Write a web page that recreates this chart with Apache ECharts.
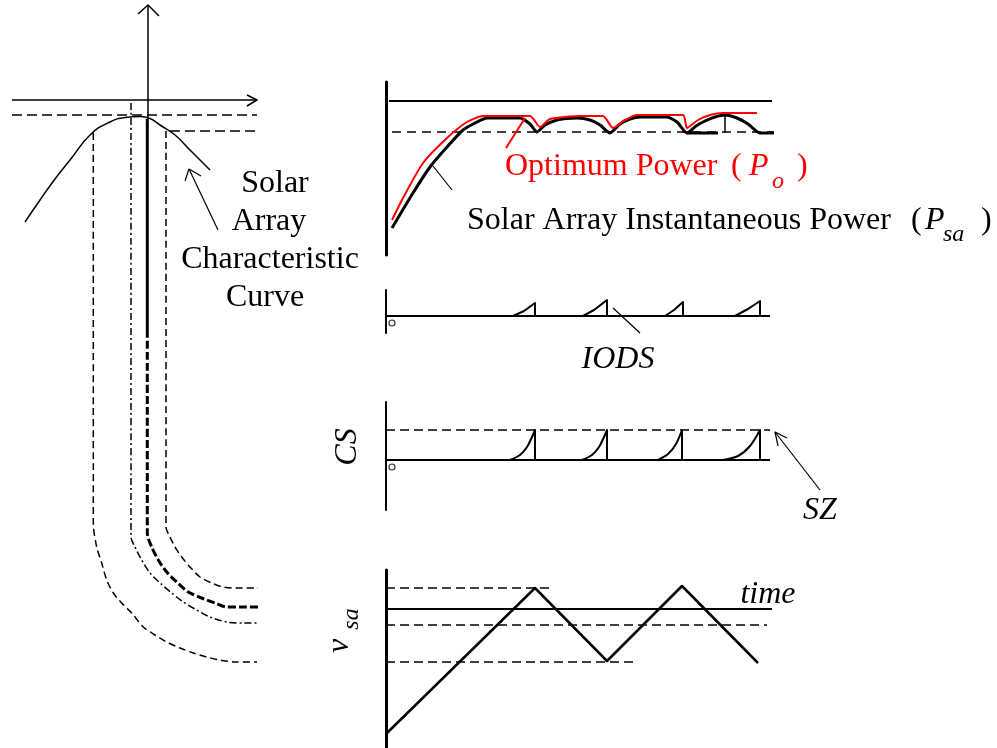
<!DOCTYPE html>
<html><head><meta charset="utf-8">
<script src="https://cdn.jsdelivr.net/npm/echarts@6/dist/echarts.min.js"></script>
<style>html,body{margin:0;padding:0;background:#fff}#c{width:997px;height:748px}</style>
</head><body><div id="c"></div>
<script>
// ---------- Left panel: solar array characteristic (units: V, P-ish) ----------
const charCurve = [[2.5,22.2],[4,20],[5.5,17.9],[7,16],[9.1,13.4],[11,12.2],[12.5,11.75],[14,11.65],[15,11.85],[16,12.5],[17.5,13.5],[19,15],[21,17]];
const leftHAxis = [[1.2,10],[25.7,10]];
const leftHArrow = [[24.7,9.5],[25.7,10],[24.7,10.6]];
const leftVAxis = [[14.8,0.5],[14.8,11.9]];
const leftVArrow = [[13.8,1.4],[14.8,0.5],[15.9,1.6]];
const leftDash1 = [[1.2,11.5],[25.7,11.5]];
const leftDash2 = [[17,13.1],[25.7,13.1]];
const projA = [[9.33,13.3],[9.33,52.3],[9.67,54.7],[10.17,56.3],[10.67,58],[11.33,59.3],[12.17,60.3],[13.17,61.3],[14.33,62.7],[15.5,63.5],[16.67,64.2],[18,64.8],[19.33,65.3],[20.67,65.7],[22,66],[23.67,66.2],[25.7,66.2]];
const projB = [[13.1,10.3],[13.1,53.7],[13.5,54.7],[14.17,56],[15,57.3],[16,58.3],[17.17,59.3],[18.33,60.2],[19.67,61],[21,61.7],[22.67,62.2],[24.33,62.3],[25.7,62.3]];
const projCtop = [[14.73,11.9],[14.73,33]];
const projC = [[14.73,33],[14.73,53.3],[15.17,54.7],[15.83,56],[16.67,57.2],[17.67,58.2],[18.83,59.2],[20.17,59.8],[21.5,60.3],[22.67,60.7],[24.33,60.7],[25.8,60.7]];
const projD = [[16.6,13.1],[16.6,52.7],[17,53.7],[17.5,54.7],[18.17,55.7],[19,56.7],[20,57.7],[21.17,58.3],[22.33,58.7],[23.67,58.8],[25.8,58.8]];
const curveLeader = [[21.8,23],[18.9,16.9]];
const curveLeaderHead = [[18.5,18.1],[18.9,16.9],[20.1,17.6]];

// ---------- Power panel (time, power) ----------
const psa = [[1.5,13.5],[6.75,31],[11,44],[15.25,54],[19.25,62.5],[22.75,66.5],[25.25,68.5],[33.5,68.5],[36,65.5],[37.75,61.5],[39.75,65],[42.75,67.5],[45.25,68.25],[47.75,68.5],[51,67.5],[53.5,65],[56,61],[58.5,65.5],[61,68],[63.5,69],[70.25,69],[72.75,66.5],[75.25,61],[77.5,64.5],[79.75,67],[82.25,69],[84.75,70],[87.75,68.5],[90.5,65.5],[93.5,61],[97,61]];
const psaFlat = [[75.25,61],[83,61]];
const psaTick = [[84.75,70],[84.75,61]];
const po = [[1.5,17.5],[4.25,28.5],[9.25,46],[15.25,58.5],[20.25,66.5],[24.25,69.5],[36,69.5],[38.5,64],[41,68],[48.5,69.5],[54.25,69.5],[56.75,63.5],[59.75,67.5],[62.75,70],[74.25,70],[75.25,63.5],[78,67.5],[81,70],[84.25,71],[92.75,71]];
const poStep = [[30,53.5],[34.75,68.5]];
const pTopLine = [[0.75,77],[96.5,77]];
const pDashLine = [[1.5,61.5],[97,61.5]];
const psaLeader = [[11.75,44.5],[16.5,32.5]];

// ---------- IODS panel ----------
const iodsBase = [[0,0],[96,0]];
const iodsTri1 = [[31.75,0],[34.5,2.5],[37.25,6.5],[37.25,0]];
const iodsTri2 = [[49.25,0],[52,3],[55.25,8],[55.25,0]];
const iodsTri3 = [[69.75,0],[72,3],[74.25,7],[74.25,0]];
const iodsTri4 = [[87.25,0],[90.5,3.5],[93.5,7.5],[93.5,0]];
const iodsLeader = [[56.75,4],[63.5,-8.5]];

// ---------- CS panel ----------
const csBase = [[0,0],[96,0]];
const csSZ = [[0,15],[96,15]];
const csRamp1 = [[31,0],[33.5,2.5],[35.25,6.5],[36.5,11.5],[37.25,15],[37.25,0]];
const csRamp2 = [[49,0],[51.5,2.5],[53.25,6.5],[54.5,11.5],[55.25,15],[55.25,0]];
const csRamp3 = [[68,0],[70.5,3],[72.5,8],[74,15],[74,0]];
const csRamp4 = [[84.25,0],[88,2],[91,7],[93.5,15],[93.5,0]];
const szLeader = [[108.5,-15],[97.25,14]];
const szHead = [[98,7],[97.25,14],[100.25,11]];

// ---------- v_sa panel ----------
const vsa = [[0.25,7.5],[37.25,80],[55.25,43.5],[74,81],[93,42.5]];
const vMax = [[0,80],[41,80]];
const vRef = [[0,69.5],[96.5,69.5]];
const vUp = [[0,61.5],[95.25,61.5]];
const vMin = [[0,43],[62.25,43]];

const origins = [[1,[1.5,-3.5]],[2,[1.5,-3.5]]];

function L(data, gi, o) {
  o = o || {};
  return {
    type: 'line', xAxisIndex: gi, yAxisIndex: gi, data: data,
    showSymbol: false, symbol: 'none', silent: true, clip: false,
    smooth: o.smooth || false, animation: false, z: o.z || 2,
    lineStyle: { color: o.color || '#000', width: o.width || 2, type: o.dash || 'solid', cap: 'butt', join: 'round' }
  };
}
const D = [7, 4];
const hid = { show: false };
function ax(type, min, max, gi, showLine, w) {
  return { type: 'value', gridIndex: gi, min: min, max: max, axisLabel: hid, axisTick: hid, splitLine: hid,
    axisLine: { show: !!showLine, onZero: false, lineStyle: { color: '#000', width: w || 2 } } };
}
const RED = '#ff0000';
const series = [
  // left
  L(charCurve, 0, { smooth: 0.5, width: 1.5 }),
  L(leftHAxis, 0, { width: 1.5 }), L(leftHArrow, 0, { width: 1.5 }),
  L(leftVAxis, 0, { width: 1.5 }), L(leftVArrow, 0, { width: 1.5 }),
  L(leftDash1, 0, { width: 1.5, dash: [10, 5] }), L(leftDash2, 0, { width: 1.5, dash: [10, 5] }),
  L(projA, 0, { smooth: 0.3, width: 1.5, dash: D }),
  L(projB, 0, { smooth: 0.3, width: 1.5, dash: [7, 3, 2, 3] }),
  L(projCtop, 0, { width: 3 }),
  L(projC, 0, { smooth: 0.3, width: 3, dash: [8, 3] }),
  L(projD, 0, { smooth: 0.3, width: 1.5, dash: D }),
  L(curveLeader, 0, { width: 1.2 }), L(curveLeaderHead, 0, { width: 1.2 }),
  // power
  L(pTopLine, 1, { width: 2 }), L(pDashLine, 1, { width: 1.5, dash: [9, 6] }),
  L(psa, 1, { width: 3, smooth: 0.2 }), L(psaFlat, 1, { width: 3 }), L(psaTick, 1, { width: 1.5 }),
  L(po, 1, { width: 2, color: RED, smooth: 0.2, z: 3 }), L(poStep, 1, { width: 2, color: RED, z: 3 }),
  L(psaLeader, 1, { width: 1.2 }),
  // IODS
  L(iodsBase, 2, { width: 2 }), L(iodsTri1, 2, { width: 2 }), L(iodsTri2, 2, { width: 2 }),
  L(iodsTri3, 2, { width: 2 }), L(iodsTri4, 2, { width: 2 }), L(iodsLeader, 2, { width: 1.2 }),
  // CS
  L(csBase, 3, { width: 2 }), L(csSZ, 3, { width: 1.5, dash: [9, 5] }),
  L(csRamp1, 3, { width: 2, smooth: 0.3 }), L(csRamp2, 3, { width: 2, smooth: 0.3 }),
  L(csRamp3, 3, { width: 2, smooth: 0.3 }), L(csRamp4, 3, { width: 2, smooth: 0.3 }),
  L(szLeader, 3, { width: 1.2 }), L(szHead, 3, { width: 1.2 }),
  // v_sa
  L(vMax, 4, { width: 1.5, dash: [9, 5] }), L(vRef, 4, { width: 2 }),
  L(vUp, 4, { width: 1.5, dash: [9, 5] }), L(vMin, 4, { width: 1.5, dash: [9, 5] }),
  L(vsa, 4, { width: 2.5 })
];
origins.forEach(function (o) {
  series.push({ type: 'scatter', xAxisIndex: o[0] + 1, yAxisIndex: o[0] + 1, data: [o[1]], symbol: 'circle', symbolSize: 6,
    itemStyle: { color: '#fff', borderColor: '#000', borderWidth: 1.2 }, silent: true, animation: false, clip: false });
});

const SERIF = '"Liberation Serif", "Times New Roman", serif';
function T(text, x, y, o) {
  o = o || {};
  return { type: 'text', x: x, y: y, rotation: o.rot || 0, silent: true, z: 10,
    style: { text: text, fill: o.color || '#000',
      font: (o.italic ? 'italic ' : '') + (o.size || 32) + 'px ' + SERIF,
      textAlign: o.align || 'left', textVerticalAlign: 'middle' } };
}
const graphic = [
  T('Solar', 275, 184, { align: 'center' }),
  T('Array', 269, 222, { align: 'center' }),
  T('Characteristic', 270, 260, { align: 'center' }),
  T('Curve', 265, 298, { align: 'center' }),
  T('Optimum Power', 505, 167, { color: RED }),
  T('(', 731, 167, { color: RED }),
  T('P', 749, 167, { color: RED, italic: true }),
  T('o', 772, 182, { color: RED, italic: true, size: 24 }),
  T(')', 797, 167, { color: RED }),
  T('Solar Array Instantaneous Power', 467, 221),
  T('(', 911, 221),
  T('P', 925, 221, { italic: true }),
  T('sa', 943, 235, { italic: true, size: 24 }),
  T(')', 981, 221),
  T('IODS', 618, 360, { italic: true, align: 'center' }),
  T('CS', 348, 447, { italic: true, align: 'center', rot: Math.PI / 2 }),
  T('SZ', 820, 511, { italic: true, align: 'center' }),
  T('time', 768, 595, { italic: true, align: 'center' }),
  T('v', 340, 646, { italic: true, align: 'center', rot: Math.PI / 2 }),
  T('sa', 352, 619, { italic: true, align: 'center', size: 24, rot: Math.PI / 2 })
];

const chart = echarts.init(document.getElementById('c'), null, { renderer: 'canvas' });
chart.setOption({
  animation: false,
  backgroundColor: '#fff',
  grid: [
    { left: 0, top: 0, width: 270, height: 748 },
    { left: 386, top: 82, width: 440, height: 173 },
    { left: 386, top: 290, width: 440, height: 43 },
    { left: 386, top: 402, width: 440, height: 108 },
    { left: 386, top: 570, width: 440, height: 178 }
  ],
  xAxis: [ax('x', 0, 27, 0), ax('x', 0, 110, 1), ax('x', 0, 110, 2), ax('x', 0, 110, 3), ax('x', 0, 110, 4)],
  yAxis: [
    Object.assign(ax('y', 0, 74.8, 0), { inverse: true }),
    ax('y', 0, 86.5, 1, true, 3),
    ax('y', -8.5, 13, 2, true, 2),
    ax('y', -25, 29, 3, true, 2),
    ax('y', 0, 89, 4, true, 3)
  ],
  series: series,
  graphic: graphic
});
</script></body></html>
